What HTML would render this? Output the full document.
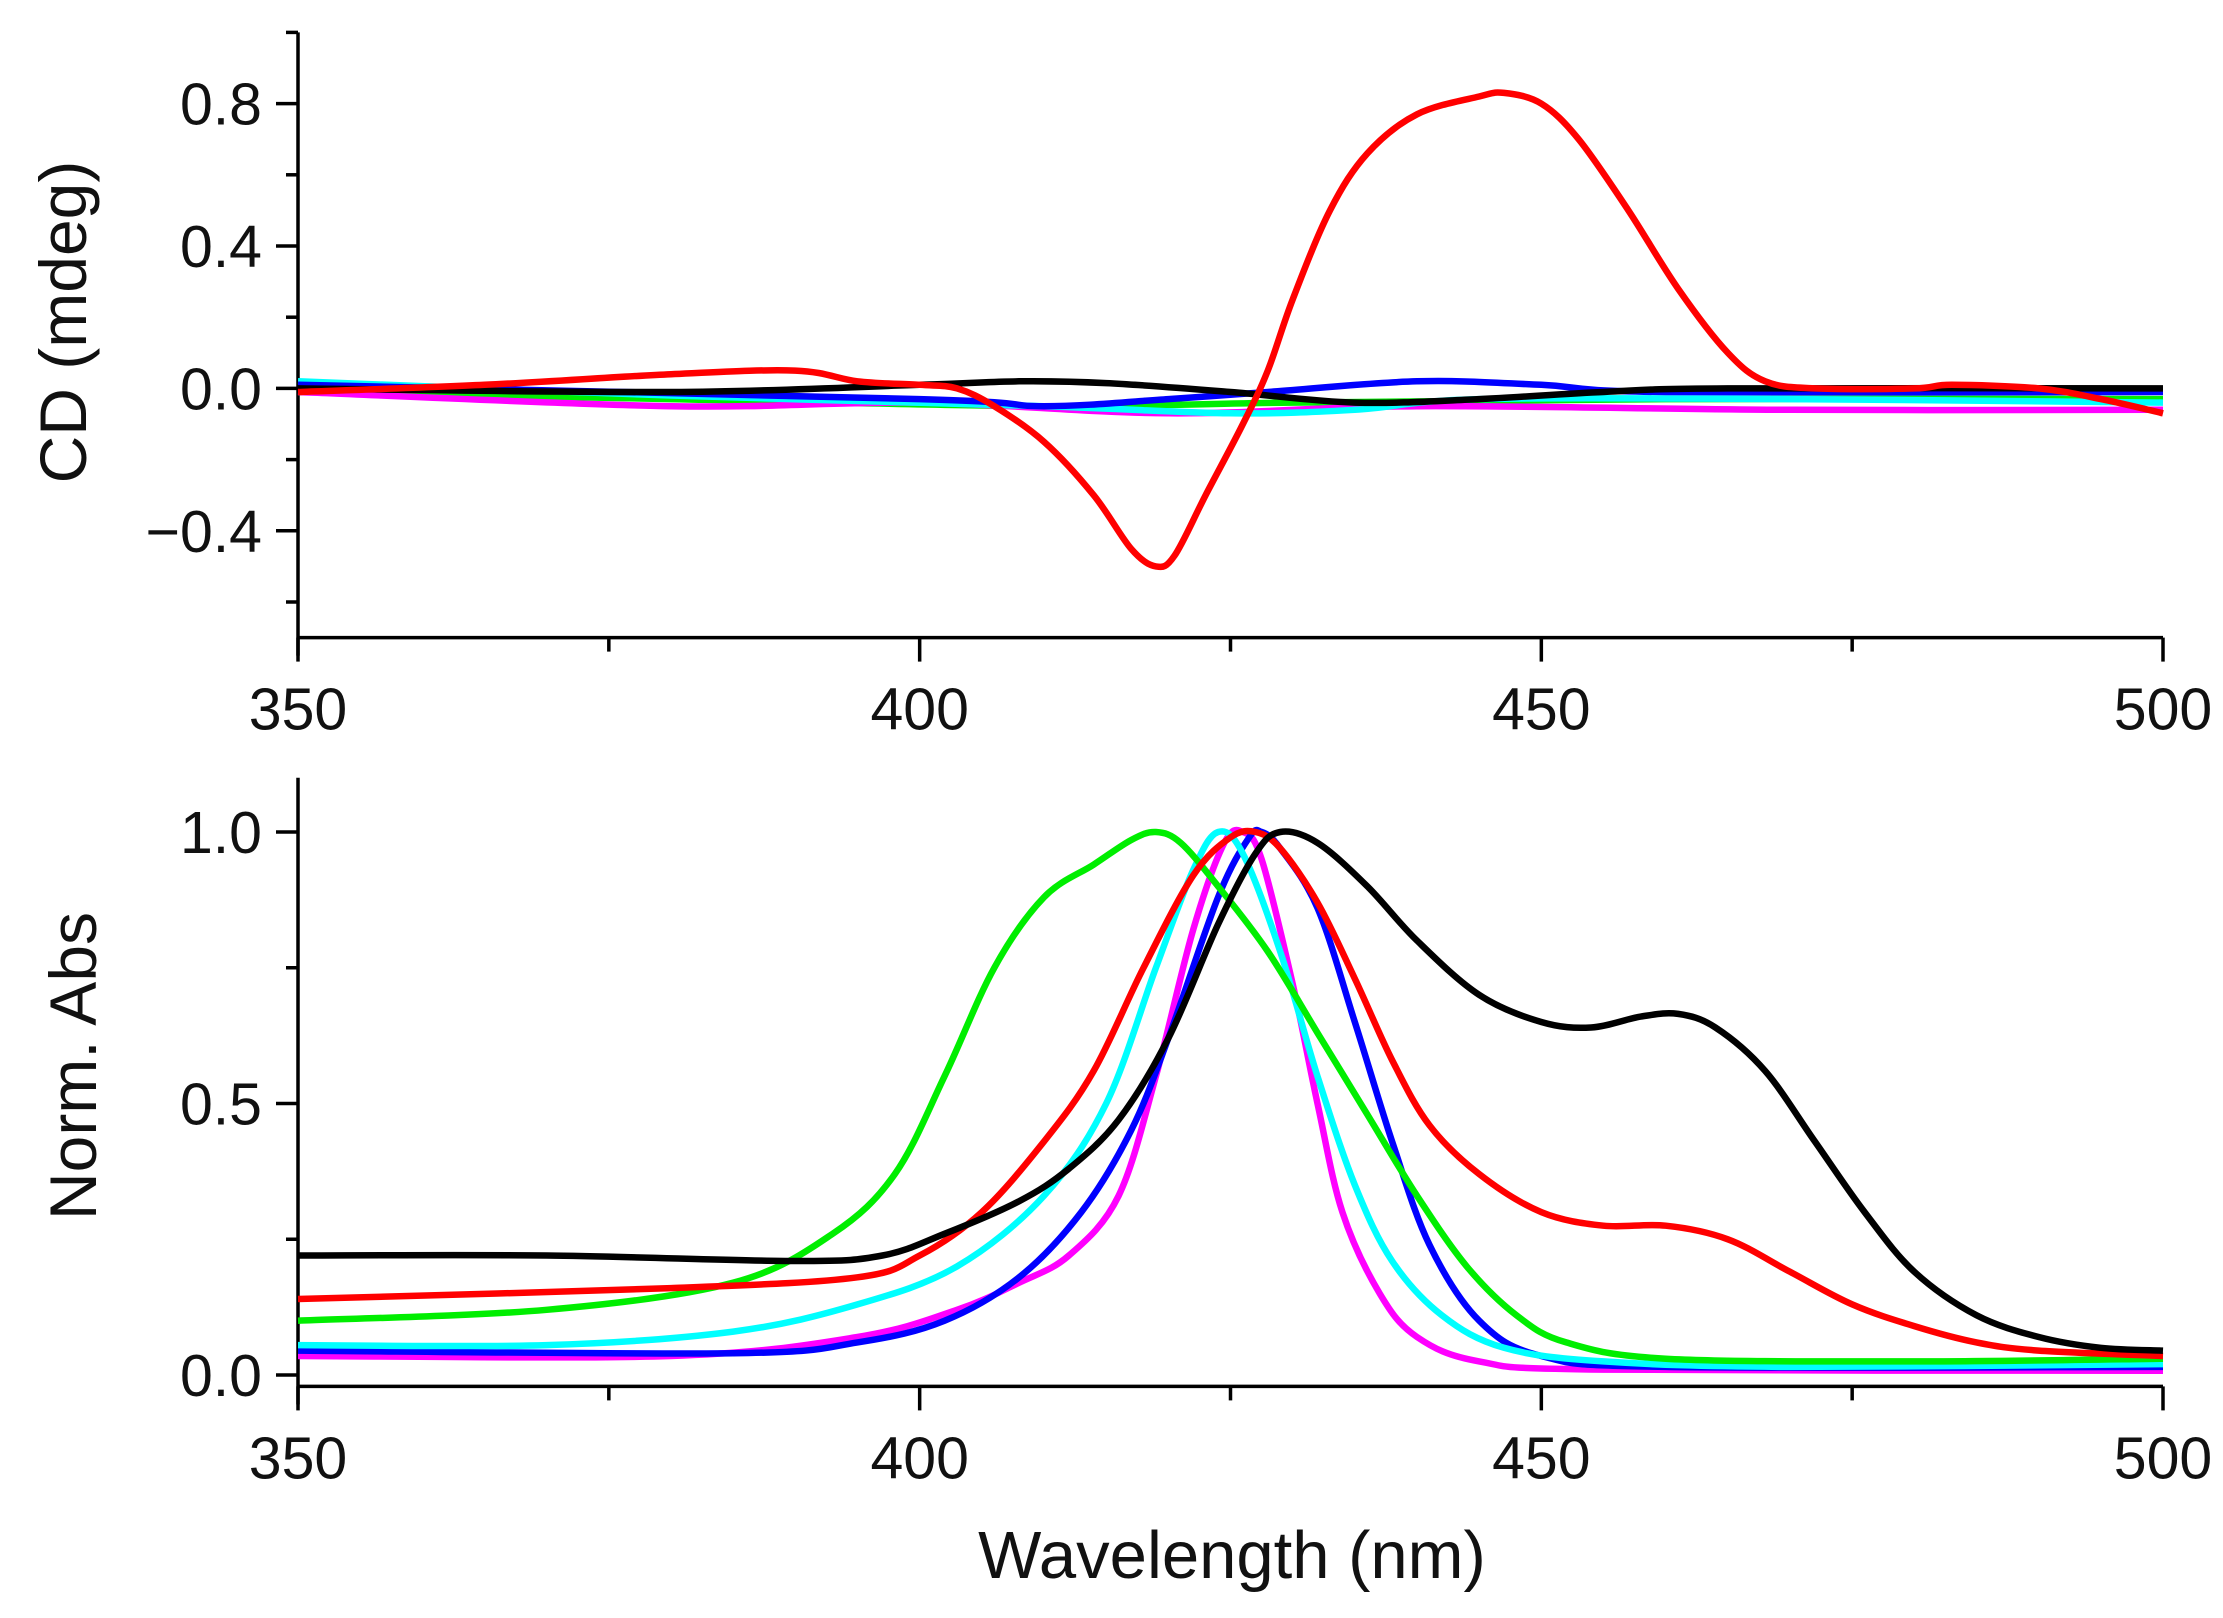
<!DOCTYPE html>
<html><head><meta charset="utf-8"><style>
html,body{margin:0;padding:0;background:#fff}
svg text{font-family:"Liberation Sans",sans-serif;fill:#111}
</style></head><body>
<svg id="chart" width="2223" height="1613" viewBox="0 0 2223 1613" xmlns="http://www.w3.org/2000/svg">
<g id="top"></g>
<g id="bot"></g>
<text x="1232" y="1578" font-size="67" text-anchor="middle">Wavelength (nm)</text>
<text transform="translate(86,322) rotate(-90)" font-size="66" text-anchor="middle">CD (mdeg)</text>
<text transform="translate(96,1066) rotate(-90)" font-size="66" text-anchor="middle">Norm. Abs</text>
</svg>
<script>
const xTicks=[350,375,400,425,450,475,500];
const xTickLabels=["350","","400","","450","","500"];
const cdTicks=[1.0,0.8,0.6,0.4,0.2,0.0,-0.2,-0.4,-0.6];
const cdTickLabels=["","0.8","","0.4","","0.0","","\u22120.4",""];
const absTicks=[1.0,0.75,0.5,0.25,0.0];
const absTickLabels=["1.0","","0.5","","0.0"];
const colors={red:"#ff0000",black:"#000000",blue:"#0000ff",cyan:"#00ffff",green:"#00ee00",magenta:"#ff00ff"};
// CD series [wavelength, value]
const cdRed=[[350,-0.01],[365,0.01],[380,0.04],[390,0.05],[395,0.02],[400,0.01],[403,0.0],[406,-0.05],[410,-0.15],[414,-0.3],[417,-0.45],[419,-0.5],[420.5,-0.47],[423,-0.3],[426,-0.1],[428,0.05],[430,0.25],[433,0.5],[436,0.66],[440,0.77],[445,0.82],[447,0.83],[450,0.8],[453,0.7],[457,0.5],[461,0.28],[465,0.1],[468,0.02],[472,0],[480,0.0],[483,0.01],[490,0],[495,-0.03],[500,-0.07]];
const cdBlack=[[350,0],[380,-0.01],[400,0.01],[408,0.02],[415,0.015],[425,-0.01],[435,-0.04],[445,-0.03],[455,-0.01],[465,0.0],[500,0.0]];
const cdBlue=[[350,0.01],[400,-0.03],[410,-0.05],[420,-0.03],[428,-0.01],[440,0.02],[450,0.01],[460,-0.01],[500,-0.01]];
const cdCyan=[[350,0.02],[380,-0.02],[410,-0.05],[425,-0.07],[435,-0.06],[445,-0.03],[470,-0.03],[500,-0.04]];
const cdGreen=[[350,-0.01],[380,-0.03],[410,-0.05],[430,-0.04],[460,-0.03],[500,-0.03]];
const cdMagenta=[[350,-0.01],[380,-0.05],[400,-0.04],[420,-0.07],[440,-0.05],[470,-0.06],[500,-0.06]];
// Absorbance series
const absBlack=[[350,0.22],[370,0.22],[390,0.21],[397,0.22],[402,0.26],[408,0.32],[412,0.38],[416,0.47],[420,0.62],[424,0.83],[427,0.96],[429,1.0],[432,0.98],[436,0.9],[440,0.8],[445,0.7],[450,0.65],[454,0.64],[458,0.66],[461,0.665],[464,0.64],[468,0.56],[472,0.43],[476,0.3],[480,0.19],[485,0.11],[490,0.07],[495,0.05],[500,0.045]];
const absRed=[[350,0.14],[380,0.16],[395,0.18],[400,0.22],[405,0.3],[410,0.43],[414,0.56],[418,0.75],[422,0.92],[425,0.99],[427,1.0],[429,0.97],[432,0.87],[435,0.73],[438,0.58],[441,0.46],[445,0.37],[450,0.3],[455,0.275],[460,0.275],[465,0.25],[470,0.19],[475,0.13],[480,0.09],[485,0.06],[490,0.045],[500,0.035]];
const absGreen=[[350,0.1],[370,0.12],[385,0.17],[393,0.26],[398,0.37],[402,0.55],[406,0.75],[410,0.88],[414,0.94],[417,0.985],[419,1.0],[421,0.98],[424,0.9],[428,0.78],[432,0.63],[436,0.48],[440,0.33],[444,0.2],[448,0.11],[452,0.06],[460,0.03],[480,0.025],[500,0.03]];
const absCyan=[[350,0.055],[370,0.055],[385,0.08],[395,0.13],[403,0.2],[410,0.33],[415,0.5],[419,0.75],[422,0.93],[424,1.0],[426,0.96],[429,0.78],[432,0.55],[435,0.35],[438,0.21],[442,0.11],[447,0.05],[455,0.025],[470,0.015],[500,0.02]];
const absBlue=[[350,0.045],[385,0.04],[395,0.06],[402,0.1],[408,0.18],[413,0.3],[417,0.45],[420,0.62],[424,0.88],[426.5,0.99],[427.5,1.0],[429,0.97],[432,0.86],[435,0.65],[438,0.43],[441,0.24],[445,0.1],[450,0.035],[460,0.015],[500,0.015]];
const absMagenta=[[350,0.035],[380,0.035],[395,0.07],[403,0.12],[408,0.17],[412,0.22],[416,0.33],[419,0.55],[422,0.82],[424.5,0.98],[426,1.0],[427.5,0.95],[430,0.72],[432,0.5],[434,0.3],[437,0.15],[440,0.07],[445,0.025],[455,0.01],[500,0.008]];

const NS="http://www.w3.org/2000/svg";
const X0=298,X1=2163;
function xs(w){return X0+(w-350)/150*(X1-X0);}
function mk(tag,attrs,parent){const e=document.createElementNS(NS,tag);for(const k in attrs)e.setAttribute(k,attrs[k]);parent.appendChild(e);return e;}
function smooth(pts){let d="M"+pts[0][0].toFixed(1)+","+pts[0][1].toFixed(1);
 for(let i=0;i<pts.length-1;i++){const p0=pts[Math.max(0,i-1)],p1=pts[i],p2=pts[i+1],p3=pts[Math.min(pts.length-1,i+2)];
 const c1=[p1[0]+(p2[0]-p0[0])/6,p1[1]+(p2[1]-p0[1])/6],c2=[p2[0]-(p3[0]-p1[0])/6,p2[1]-(p3[1]-p1[1])/6];
 d+="C"+c1[0].toFixed(1)+","+c1[1].toFixed(1)+" "+c2[0].toFixed(1)+","+c2[1].toFixed(1)+" "+p2[0].toFixed(1)+","+p2[1].toFixed(1);}
 return d;}
function panel(g,ys,yTop,yBot,yt,ytl,series,prefix){
 const axisY=ys(yBot);
 const yAxis=mk("line",{x1:X0,y1:ys(yTop),x2:X0,y2:axisY+18,stroke:"#000","stroke-width":3.5},g);
 
 
 const xAxis=mk("line",{x1:X0,y1:axisY,x2:X1,y2:axisY,stroke:"#000","stroke-width":3.5},g);
 
 
 yt.forEach((v,i)=>{const major=ytl[i]!=="";const y=ys(v);
  const t=mk("line",{x1:X0-(major?22:12),y1:y,x2:X0,y2:y,stroke:"#000","stroke-width":3.5},g);
  
  
  if(major){const tx=mk("text",{x:X0-36,y:y+21,"font-size":59,"text-anchor":"end"},g);tx.textContent=ytl[i];
  
  }});
 xTicks.forEach((w,i)=>{const major=xTickLabels[i]!=="";const x=xs(w);
  const t=mk("line",{x1:x,y1:axisY,x2:x,y2:axisY+(major?24:14),stroke:"#000","stroke-width":3.5},g);
  
  
  if(major){const tx=mk("text",{x:x,y:axisY+92,"font-size":59,"text-anchor":"middle"},g);tx.textContent=xTickLabels[i];
  
  }});
 series.forEach(s=>{const pts=s.data.map(p=>[xs(p[0]),ys(p[1])]);
  const p=mk("path",{d:smooth(pts),fill:"none",stroke:s.c,"stroke-width":6.5,"stroke-linejoin":"round"},g);
  
  });
}
const cdY=v=>388.4-v*356;
const absY=v=>1375-v*543;
panel(document.getElementById("top"),cdY,1.0,-0.7,cdTicks,cdTickLabels,[
 {n:"green",c:colors.green,data:cdGreen},{n:"magenta",c:colors.magenta,data:cdMagenta},{n:"cyan",c:colors.cyan,data:cdCyan},
 {n:"blue",c:colors.blue,data:cdBlue},{n:"black",c:colors.black,data:cdBlack},{n:"red",c:colors.red,data:cdRed}],"cd");
panel(document.getElementById("bot"),absY,1.1,-0.021,absTicks,absTickLabels,[
 {n:"magenta",c:colors.magenta,data:absMagenta},{n:"blue",c:colors.blue,data:absBlue},{n:"cyan",c:colors.cyan,data:absCyan},
 {n:"green",c:colors.green,data:absGreen},{n:"red",c:colors.red,data:absRed},{n:"black",c:colors.black,data:absBlack}],"abs");
</script>
</body></html>
